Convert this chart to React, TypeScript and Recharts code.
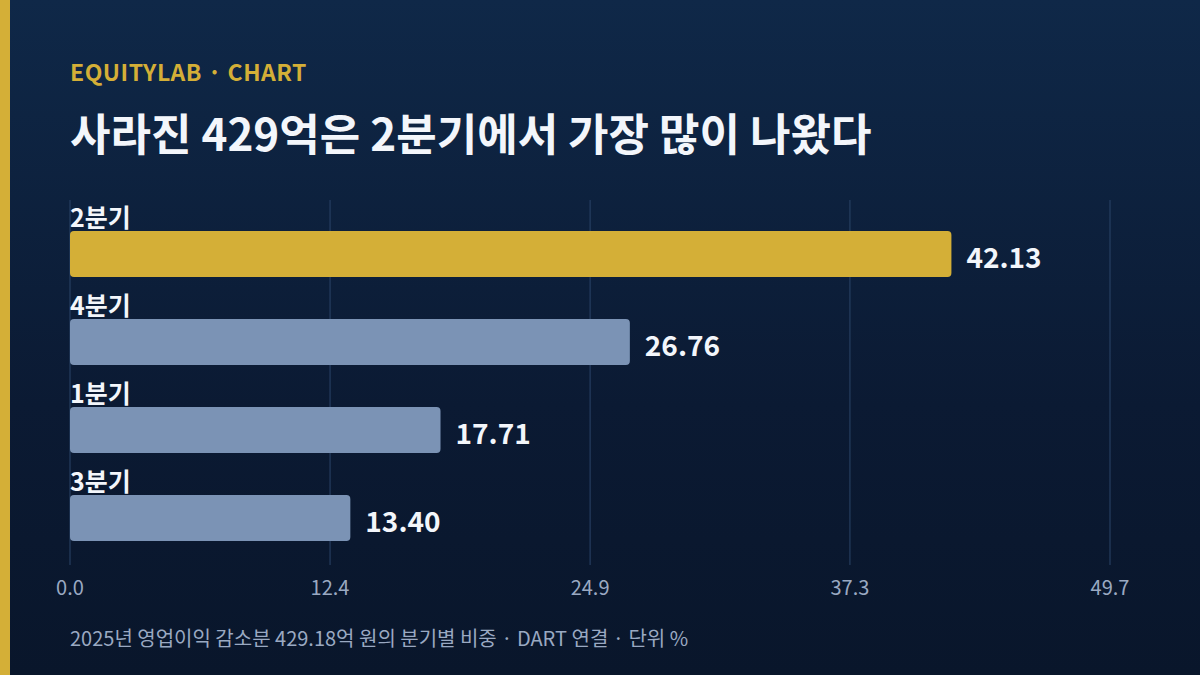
import { BarChart, Bar, XAxis, YAxis, CartesianGrid, Cell, LabelList } from 'recharts'

const quarters = ['2분기', '4분기', '1분기', '3분기']
const shares = [42.13, 26.76, 17.71, 13.4]
const xTicks = [0, 12.43, 24.86, 37.28, 49.71]

const FONT = '"Noto Sans CJK KR", "Noto Sans", sans-serif'
const GOLD = '#d4af37'
const SLATE = '#7b93b5'

const chartData = quarters.map((q, i) => ({ quarter: q, share: shares[i] }))

// category name sits just above each bar, left aligned
function QuarterLabel(props: any) {
  const { x, y, value } = props
  return (
    <text x={x} y={y - 4} fill="#f3f6fb" fontSize={25} fontWeight={700} fontFamily={FONT}>
      {value}
    </text>
  )
}

function ValueLabel(props: any) {
  const { x, y, width, height, value } = props
  return (
    <text
      x={x + width + 15}
      y={y + height / 2 + 6}
      fill="#f3f6fb"
      fontSize={28}
      fontWeight={700}
      fontFamily={FONT}
      dominantBaseline="middle"
    >
      {Number(value).toFixed(2)}
    </text>
  )
}

export default function App() {
  return (
    <div
      style={{
        position: 'absolute',
        left: 0,
        top: 0,
        width: 1200,
        height: 675,
        overflow: 'hidden',
        background: 'linear-gradient(180deg, #0f2848 0%, #0b1a33 60%, #09162b 100%)',
        fontFamily: FONT,
      }}
    >
      <div style={{ position: 'absolute', left: 0, top: 0, width: 10, height: 675, background: GOLD }} />
      <div
        style={{
          position: 'absolute',
          left: 70,
          top: 55,
          color: GOLD,
          fontSize: 23,
          fontWeight: 700,
          letterSpacing: 0.5,
          lineHeight: '32px',
        }}
      >
        EQUITYLAB · CHART
      </div>
      <div
        style={{
          position: 'absolute',
          left: 70,
          top: 103,
          color: '#f3f6fb',
          fontSize: 44,
          fontWeight: 700,
          lineHeight: '58px',
        }}
      >
        사라진 429억은 2분기에서 가장 많이 나왔다
      </div>

      <div style={{ position: 'absolute', left: 0, top: 0 }}>
        <BarChart
          width={1200}
          height={675}
          data={chartData}
          layout="vertical"
          margin={{ top: 200, right: 90, bottom: 70, left: 70 }}
        >
          <CartesianGrid horizontal={false} stroke="#2b4468" strokeWidth={1} />
          <XAxis
            type="number"
            domain={[0, xTicks[xTicks.length - 1]]}
            ticks={xTicks}
            tickFormatter={(v: number) => v.toFixed(1)}
            axisLine={false}
            tickLine={false}
            tickSize={0}
            tickMargin={16}
            height={40}
            tick={{ fill: '#9aa9c2', fontSize: 20, fontFamily: FONT }}
            interval={0}
          />
          <YAxis type="category" dataKey="quarter" hide width={0} padding={{ top: 10, bottom: 3 }} />
          <Bar dataKey="share" barSize={46} radius={4} isAnimationActive={false}>
            {chartData.map((d, i) => (
              <Cell key={d.quarter} fill={i === 0 ? GOLD : SLATE} />
            ))}
            <LabelList dataKey="quarter" content={QuarterLabel} />
            <LabelList dataKey="share" content={ValueLabel} />
          </Bar>
        </BarChart>
      </div>

      <div
        style={{
          position: 'absolute',
          left: 70,
          top: 623,
          color: '#9aa9c2',
          fontSize: 20,
          lineHeight: '30px',
        }}
      >
        2025년 영업이익 감소분 429.18억 원의 분기별 비중 · DART 연결 · 단위 %
      </div>
    </div>
  )
}
